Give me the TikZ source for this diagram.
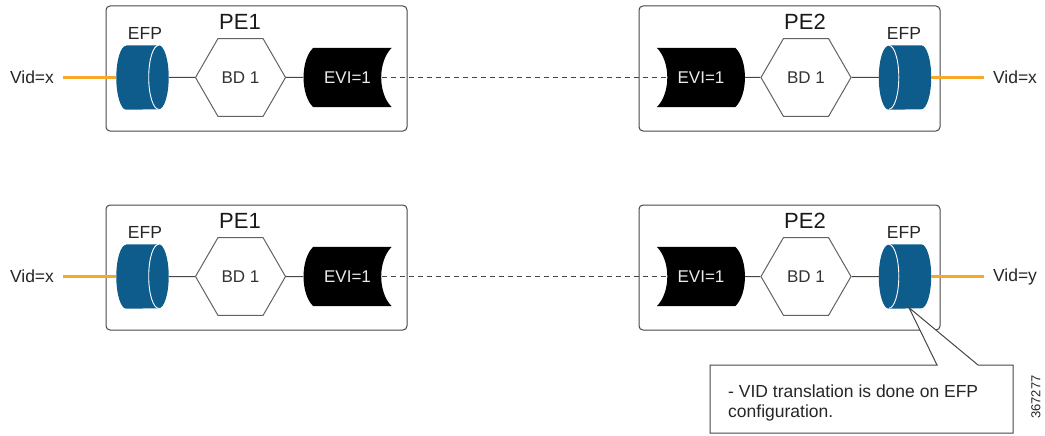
\documentclass[tikz,border=0pt]{standalone}
\usepackage{fontspec}
\setmainfont{Liberation Sans}
\usetikzlibrary{shapes.geometric,backgrounds}
\definecolor{efpblue}{RGB}{14,92,140}
\definecolor{vidorange}{RGB}{247,168,40}
\definecolor{linegray}{RGB}{70,70,70}
\tikzset{
  pebox/.style={draw=linegray, line width=1pt, rounded corners=4pt, inner sep=0pt, minimum width=301pt, minimum height=125pt},
  hexa/.style={regular polygon, regular polygon sides=6, draw=linegray!85, line width=1pt, inner sep=0pt, minimum size=90pt, font=\fontsize{17}{20}\selectfont, text=black!80},
  efpnode/.style={inner sep=0pt, minimum width=52pt, minimum height=64pt},
  evinode/.style={inner sep=0pt, minimum width=88pt, minimum height=59pt, text=white!92!black, font=\fontsize{17}{20}\selectfont},
  lbl/.style={inner sep=0pt, font=\fontsize{17.5}{20}\selectfont, text=black!85},
  pelbl/.style={inner sep=0pt, font=\fontsize{22}{25}\selectfont, text=black!90},
  link/.style={draw=linegray, line width=1pt},
  vidlink/.style={draw=vidorange, line width=2.5pt},
  tunnel/.style={draw=linegray, line width=1pt, dash pattern=on 5pt off 4pt},
  callout/.style={draw=linegray, line width=1pt, fill=white},
}
% cylinder with its front face on the right
\newcommand\efpRight[1]{%
  \fill[efpblue] ([xshift=10pt]#1.north west) -- ([xshift=-10pt]#1.north east)
    arc[start angle=90,end angle=-90,x radius=10pt,y radius=32pt]
    -- ([xshift=10pt]#1.south west)
    arc[start angle=270,end angle=90,x radius=10pt,y radius=32pt] -- cycle;
  \draw[white,line width=0.9pt] ([xshift=-10pt]#1.north east)
    arc[start angle=90,end angle=270,x radius=10pt,y radius=32pt];
}
% cylinder with its front face on the left
\newcommand\efpLeft[1]{%
  \fill[efpblue] ([xshift=10pt]#1.north west) -- ([xshift=-10pt]#1.north east)
    arc[start angle=90,end angle=-90,x radius=10pt,y radius=32pt]
    -- ([xshift=10pt]#1.south west)
    arc[start angle=270,end angle=90,x radius=10pt,y radius=32pt] -- cycle;
  \draw[white,line width=0.9pt] ([xshift=10pt]#1.north west)
    arc[start angle=90,end angle=-90,x radius=10pt,y radius=32pt];
}
% EVI: convex left, concave right
\newcommand\eviLeft[1]{%
  \fill[black] ([xshift=10pt]#1.north west) -- (#1.north east)
    .. controls ([xshift=-14pt,yshift=-14pt]#1.north east) and ([xshift=-14pt,yshift=14pt]#1.south east) .. (#1.south east)
    -- ([xshift=10pt]#1.south west)
    .. controls ([xshift=-3pt,yshift=12pt]#1.south west) and ([xshift=-3pt,yshift=-12pt]#1.north west) .. ([xshift=10pt]#1.north west) -- cycle;
}
% EVI: concave left, convex right
\newcommand\eviRight[1]{%
  \fill[black] (#1.north west) -- ([xshift=-10pt]#1.north east)
    .. controls ([xshift=3pt,yshift=-12pt]#1.north east) and ([xshift=3pt,yshift=12pt]#1.south east) .. ([xshift=-10pt]#1.south east)
    -- (#1.south west)
    .. controls ([xshift=14pt,yshift=14pt]#1.south west) and ([xshift=14pt,yshift=-14pt]#1.north west) .. (#1.north west) -- cycle;
}
\begin{document}
\begin{tikzpicture}[x=1pt,y=-1pt]
\useasboundingbox (0,0) rectangle (1045,436);

% ---------------- row 1 ----------------
\node[pebox] (b1) at (256.5,68.5) {};
\node[pebox] (b2) at (789.5,68.5) {};
\node[efpnode] (efp1) at (142.5,77.5) {};
\node[lbl] (efpl1) at (145,33) {EFP};
\node[pelbl] (pe1) at (240,22) {PE1};
\node[hexa] (bd1) at (240.5,77.5) {BD 1};
\node[evinode] (evi1) at (347.5,77.5) {EVI=1};
\node[lbl] (vid1) at (32,77.5) {Vid=x};
\node[evinode] (evi2) at (701,77.5) {EVI=1};
\node[hexa] (bd2) at (806,77.5) {BD 1};
\node[pelbl] (pe2) at (805,22) {PE2};
\node[efpnode] (efp2) at (905,77.5) {};
\node[lbl] (efpl2) at (904,33) {EFP};
\node[lbl] (vid2) at (1015,77.5) {Vid=x};

% ---------------- row 2 ----------------
\node[pebox] (b3) at (256.5,267.5) {};
\node[pebox] (b4) at (789.5,267.5) {};
\node[efpnode] (efp3) at (142.5,276.5) {};
\node[lbl] (efpl3) at (145,232) {EFP};
\node[pelbl] (pe3) at (240,221) {PE1};
\node[hexa] (bd3) at (240.5,276.5) {BD 1};
\node[evinode] (evi3) at (347.5,276.5) {EVI=1};
\node[lbl] (vid3) at (32,276.5) {Vid=x};
\node[evinode] (evi4) at (701,276.5) {EVI=1};
\node[hexa] (bd4) at (806,276.5) {BD 1};
\node[pelbl] (pe4) at (805,221) {PE2};
\node[efpnode] (efp4) at (905,276.5) {};
\node[lbl] (efpl4) at (904,232) {EFP};
\node[lbl] (vid4) at (1015,276.5) {Vid=y};

\begin{pgfonlayer}{background}
  \efpRight{efp1} \efpLeft{efp2} \efpRight{efp3} \efpLeft{efp4}
  \eviLeft{evi1} \eviRight{evi2} \eviLeft{evi3} \eviRight{evi4}
\end{pgfonlayer}

% connectors
\draw[vidlink, shorten <=9pt] (vid1.east) -- (efp1.west);
\draw[link] (efp1.east) -- (bd1.west);
\draw[link] (bd1.east) -- (evi1.west);
\draw[tunnel] ([xshift=-10pt]evi1.east) -- ([xshift=10pt]evi2.west);
\draw[link] (evi2.east) -- (bd2.west);
\draw[link] (bd2.east) -- (efp2.west);
\draw[vidlink, shorten <=9pt] (vid2.west) -- (efp2.east);

\draw[vidlink, shorten <=9pt] (vid3.east) -- (efp3.west);
\draw[link] (efp3.east) -- (bd3.west);
\draw[link] (bd3.east) -- (evi3.west);
\draw[tunnel] ([xshift=-10pt]evi3.east) -- ([xshift=10pt]evi4.west);
\draw[link] (evi4.east) -- (bd4.west);
\draw[link] (bd4.east) -- (efp4.west);
\draw[vidlink, shorten <=9pt] (vid4.west) -- (efp4.east);

% callout
\coordinate (tip) at ([xshift=4pt,yshift=1pt]efp4.south);
\draw[callout] (710,365) -- (937,365) -- (tip) -- (978,365) -- (1013,365) -- (1013,433) -- (710,433) -- cycle;
\node[lbl, align=left, anchor=west, font=\fontsize{17.5}{20}\selectfont] (note) at (728,403) {- VID translation is done on EFP\\configuration.};
\node[inner sep=0pt, rotate=90, font=\fontsize{13}{15}\selectfont, text=black!85] (fig) at (1036,397) {367277};
\end{tikzpicture}
\end{document}
